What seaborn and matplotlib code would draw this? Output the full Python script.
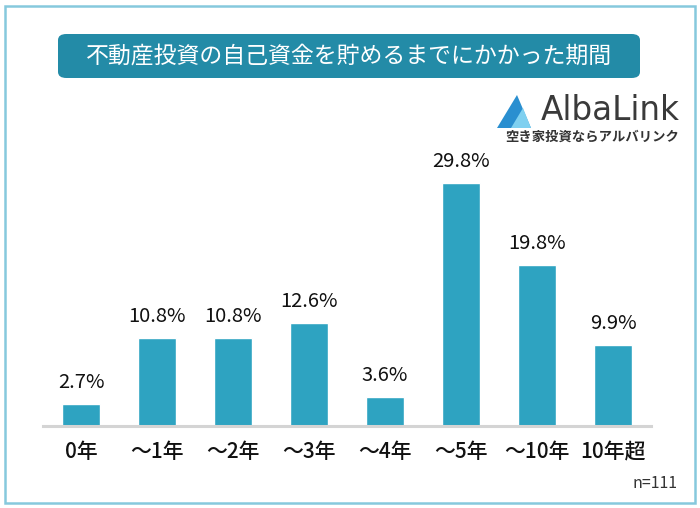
import matplotlib
matplotlib.use("Agg")
import matplotlib.pyplot as plt
import seaborn as sns
import pandas as pd
from matplotlib.patches import FancyBboxPatch, Rectangle, Polygon

categories = ["0年", "～1年", "～2年", "～3年", "～4年", "～5年", "～10年", "10年超"]
values = [2.7, 10.8, 10.8, 12.6, 3.6, 29.8, 19.8, 9.9]
title = "不動産投資の自己資金を貯めるまでにかかった期間"
note = "n=111"

sns.set_theme(style="white")
plt.rcParams['font.family'] = ['Noto Sans CJK JP', 'DejaVu Sans']

df = pd.DataFrame({"cat": categories, "val": values})

fig = plt.figure(figsize=(7.0, 5.08), dpi=100)
fig.patch.set_facecolor("white")

# outer border
fig.patches.append(Rectangle((5/700, 5/508), 690/700, 497/508, transform=fig.transFigure,
                             fill=False, edgecolor="#86c9dd", linewidth=1.8))

# title box
fig.patches.append(FancyBboxPatch((58/700, (508-78)/508), 582/700, 44/508,
                                  boxstyle="round,pad=0,rounding_size=0.012",
                                  transform=fig.transFigure, facecolor="#238ba7",
                                  edgecolor="none"))
fig.text(349/700, (508-56)/508, title, color="white", fontsize=16.5,
         ha="center", va="center")

ax = fig.add_axes([43/700, (508-426)/508, 608/700, 285/508])
sns.barplot(data=df, x="cat", y="val", color="#2ea3c1", width=0.51,
            saturation=1, ax=ax)
ax.set_xlim(-0.5, 7.5)
ax.set_ylim(0, 35)
ax.set_xlabel("")
ax.set_ylabel("")
ax.set_yticks([])
for s in ["top", "right", "left"]:
    ax.spines[s].set_visible(False)
ax.spines["bottom"].set_color("#d4d4d4")
ax.spines["bottom"].set_linewidth(2.2)
ax.tick_params(axis="x", length=0, pad=11, labelsize=15, labelcolor="#111111")
for lbl in ax.get_xticklabels():
    lbl.set_fontweight("medium")
ax.set_facecolor("none")

for i, v in enumerate(values):
    ax.annotate(f"{v:.1f}%", (i, v), xytext=(0, 8), textcoords="offset points",
                ha="center", va="bottom", fontsize=14.5, color="#111111")

# n note
fig.text(678/700, (508-484)/508, note, ha="right", va="center", fontsize=11.5,
         color="#333333")

# logo
lx, ly = 497, 128
tri = Polygon([[ (lx)/700, (508-ly)/508 ], [(lx+34)/700, (508-ly)/508],
               [(lx+20)/700, (508-95)/508]], closed=True, transform=fig.transFigure,
              facecolor="#2a8fd0", edgecolor="none")
fig.patches.append(tri)
tri2 = Polygon([[ (lx+14)/700, (508-ly)/508 ], [(lx+34)/700, (508-ly)/508],
               [(lx+26)/700, (508-108)/508]], closed=True, transform=fig.transFigure,
              facecolor="#7fd0f0", edgecolor="none")
fig.patches.append(tri2)
fig.text(541/700, (508-111)/508, "AlbaLink", ha="left", va="center", fontsize=23.5,
         color="#3a3a3a", family=["DejaVu Sans"])
fig.text(592/700, (508-137)/508, "空き家投資ならアルバリンク", ha="center", va="center",
         fontsize=9.6, color="#333333", fontweight="bold")

fig.savefig("out.png", dpi=100)
